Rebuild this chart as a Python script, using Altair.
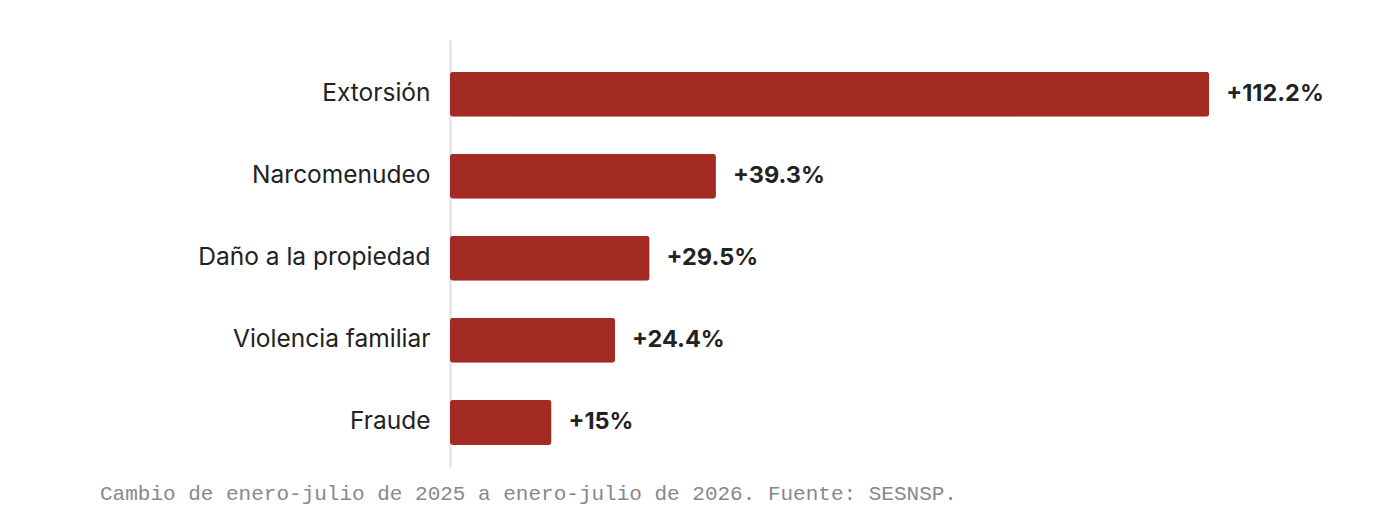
import altair as alt
import pandas as pd

categories = ["Extorsión", "Narcomenudeo", "Daño a la propiedad", "Violencia familiar", "Fraude"]
values = [112.2, 39.3, 29.5, 24.4, 15]
caption = "Cambio de enero-julio de 2025 a enero-julio de 2026. Fuente: SESNSP."

df = pd.DataFrame({"delito": categories, "cambio": values})

y_enc = alt.Y(
    "delito:N",
    sort=categories,
    title=None,
    scale=alt.Scale(paddingInner=0.451, paddingOuter=0.329, align=0.59),
    axis=alt.Axis(
        domain=True, domainColor="#dddddd", domainWidth=2,
        ticks=False, grid=False, labelLimit=0,
        labelFont="Inter", labelFontSize=24.5, labelColor="#222222",
        labelPadding=20,
    ),
)
x_enc = alt.X(
    "cambio:Q",
    scale=alt.Scale(domain=[0, 120], nice=False),
    axis=None,
)

base = alt.Chart(df).encode(y=y_enc, x=x_enc)

bars = base.mark_bar(color="#a42b24", cornerRadius=3)
labels = base.transform_calculate(
    etiqueta="'+' + datum.cambio + '%'"
).mark_text(
    align="left", baseline="middle", dx=17, font="Inter", fontSize=23.5,
    fontWeight="bold", color="#222222",
).encode(text="etiqueta:N")

chart = alt.layer(bars, labels).properties(
    width=812,
    height=427,
    background="white",
    padding={"left": 92, "top": 32, "right": 5, "bottom": 5},
    title=alt.TitleParams(
        text=caption, orient="bottom", anchor="start", frame="group",
        dx=-350, offset=16, font="Liberation Mono", fontSize=21,
        fontWeight="normal", color="#888888",
    ),
).configure_view(strokeWidth=0, stroke="transparent")

chart.save("out.html", embed_options={"renderer": "svg", "actions": False})
